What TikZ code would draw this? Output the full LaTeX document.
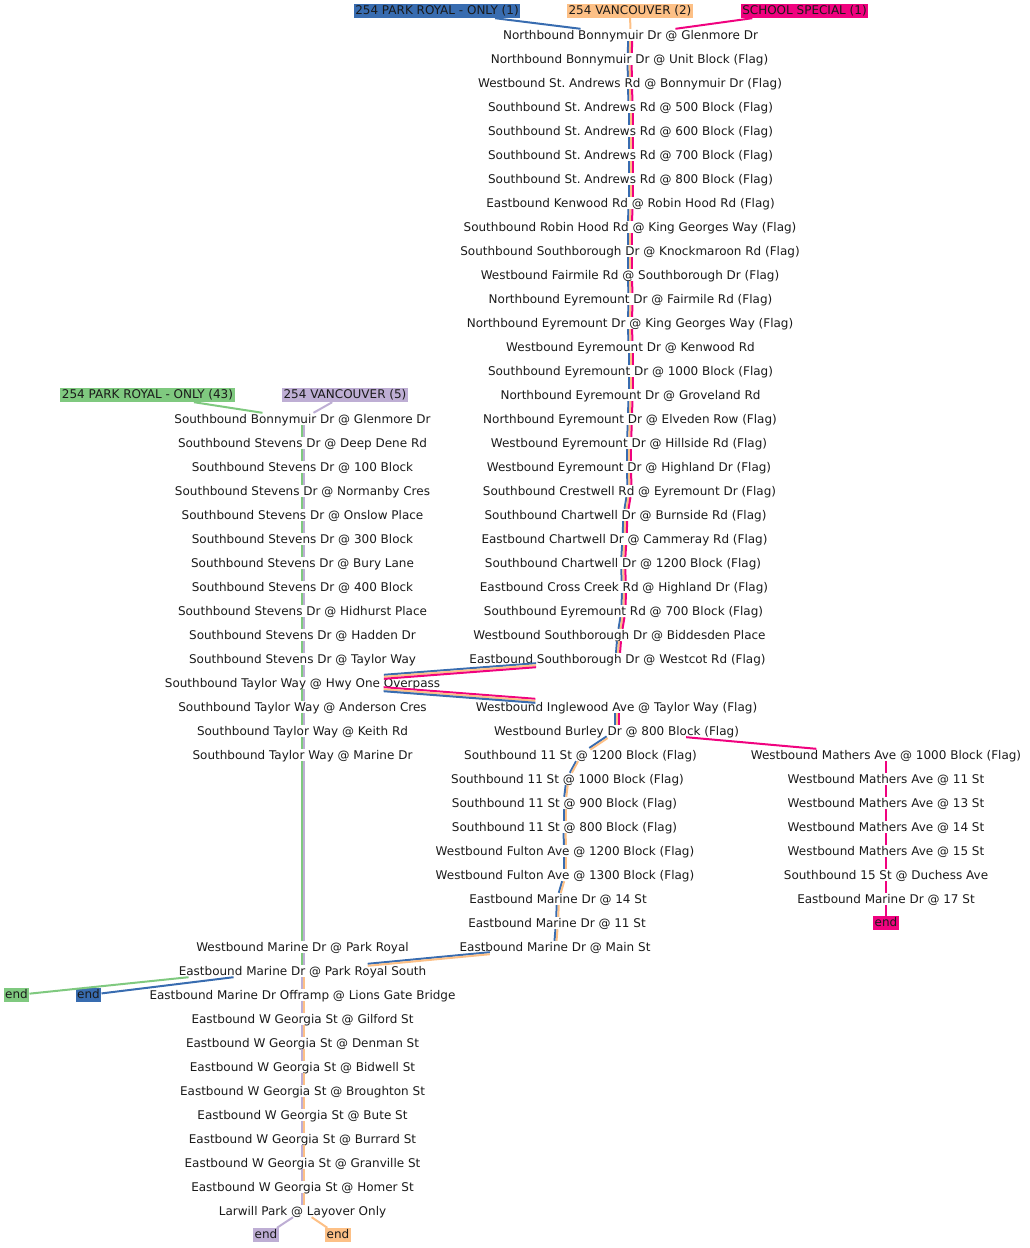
\documentclass[tikz,border=0pt]{standalone}
\usepackage{fontspec}
\setmainfont{DejaVu Sans}
\usepackage{tikz}
\usetikzlibrary{calc}
\definecolor{ink}{HTML}{1A1A1A}
\definecolor{grn}{HTML}{7FC97F}
\definecolor{pur}{HTML}{BEAED4}
\definecolor{org}{HTML}{FDC086}
\definecolor{blu}{HTML}{386CB0}
\definecolor{pnk}{HTML}{F0027F}
\frenchspacing

\begin{document}
\begin{tikzpicture}[x=1pt,y=-1pt,every node/.style={font=\fontsize{12}{14}\selectfont,text=ink}]
\tikzstyle{stop}=[inner sep=0pt,text height=10pt,text depth=2pt]
\tikzstyle{route}=[inner xsep=1.5pt,inner ysep=1pt,text height=9.5pt,text depth=2.5pt]
\tikzstyle{leg}=[line width=2pt]
\useasboundingbox (0,0) rectangle (1029,1248);
% routes
\node[route,fill=blu] (prone) at (437,11) {254 PARK ROYAL - ONLY (1)};
\node[route,fill=org] (vantwo) at (630,11) {254 VANCOUVER (2)};
\node[route,fill=pnk] (school) at (804.5,11) {SCHOOL SPECIAL (1)};
\node[route,fill=grn] (prmany) at (147.5,395) {254 PARK ROYAL - ONLY (43)};
\node[route,fill=pur] (vanfive) at (345,395) {254 VANCOUVER (5)};
% north shore trunk
\node[stop] (n1) at (630.5,35) {Northbound Bonnymuir Dr @ Glenmore Dr};
\node[stop] (n2) at (629.5,59) {Northbound Bonnymuir Dr @ Unit Block (Flag)};
\node[stop] (n3) at (630,83) {Westbound St. Andrews Rd @ Bonnymuir Dr (Flag)};
\node[stop] (n4) at (630.5,107) {Southbound St. Andrews Rd @ 500 Block (Flag)};
\node[stop] (n5) at (630.5,131) {Southbound St. Andrews Rd @ 600 Block (Flag)};
\node[stop] (n6) at (630.5,155) {Southbound St. Andrews Rd @ 700 Block (Flag)};
\node[stop] (n7) at (630.5,179) {Southbound St. Andrews Rd @ 800 Block (Flag)};
\node[stop] (n8) at (630.5,203) {Eastbound Kenwood Rd @ Robin Hood Rd (Flag)};
\node[stop] (n9) at (630,227) {Southbound Robin Hood Rd @ King Georges Way (Flag)};
\node[stop] (n10) at (630,251) {Southbound Southborough Dr @ Knockmaroon Rd (Flag)};
\node[stop] (n11) at (630,275) {Westbound Fairmile Rd @ Southborough Dr (Flag)};
\node[stop] (n12) at (630.5,299) {Northbound Eyremount Dr @ Fairmile Rd (Flag)};
\node[stop] (n13) at (630,323) {Northbound Eyremount Dr @ King Georges Way (Flag)};
\node[stop] (n14) at (630.5,347) {Westbound Eyremount Dr @ Kenwood Rd};
\node[stop] (n15) at (630.5,371) {Southbound Eyremount Dr @ 1000 Block (Flag)};
\node[stop] (n16) at (630.5,395) {Northbound Eyremount Dr @ Groveland Rd};
\node[stop] (n17) at (630,419) {Northbound Eyremount Dr @ Elveden Row (Flag)};
\node[stop] (n18) at (629,443) {Westbound Eyremount Dr @ Hillside Rd (Flag)};
\node[stop] (n19) at (629,467) {Westbound Eyremount Dr @ Highland Dr (Flag)};
\node[stop] (n20) at (629.5,491) {Southbound Crestwell Rd @ Eyremount Dr (Flag)};
\node[stop] (n21) at (625.5,515) {Southbound Chartwell Dr @ Burnside Rd (Flag)};
\node[stop] (n22) at (624.5,539) {Eastbound Chartwell Dr @ Cammeray Rd (Flag)};
\node[stop] (n23) at (623,563) {Southbound Chartwell Dr @ 1200 Block (Flag)};
\node[stop] (n24) at (624,587) {Eastbound Cross Creek Rd @ Highland Dr (Flag)};
\node[stop] (n25) at (623.5,611) {Southbound Eyremount Rd @ 700 Block (Flag)};
\node[stop] (n26) at (619.5,635) {Westbound Southborough Dr @ Biddesden Place};
\node[stop] (n27) at (617.5,659) {Eastbound Southborough Dr @ Westcot Rd (Flag)};
% left column
\node[stop] (s1) at (302.5,419) {Southbound Bonnymuir Dr @ Glenmore Dr};
\node[stop] (s2) at (302.5,443) {Southbound Stevens Dr @ Deep Dene Rd};
\node[stop] (s3) at (302.5,467) {Southbound Stevens Dr @ 100 Block};
\node[stop] (s4) at (302.5,491) {Southbound Stevens Dr @ Normanby Cres};
\node[stop] (s5) at (302.5,515) {Southbound Stevens Dr @ Onslow Place};
\node[stop] (s6) at (302.5,539) {Southbound Stevens Dr @ 300 Block};
\node[stop] (s7) at (302.5,563) {Southbound Stevens Dr @ Bury Lane};
\node[stop] (s8) at (302.5,587) {Southbound Stevens Dr @ 400 Block};
\node[stop] (s9) at (302.5,611) {Southbound Stevens Dr @ Hidhurst Place};
\node[stop] (s10) at (302.5,635) {Southbound Stevens Dr @ Hadden Dr};
\node[stop] (s11) at (302.5,659) {Southbound Stevens Dr @ Taylor Way};
\node[stop] (s12) at (302.5,683) {Southbound Taylor Way @ Hwy One Overpass};
\node[stop] (s13) at (302.5,707) {Southbound Taylor Way @ Anderson Cres};
\node[stop] (s14) at (302.5,731) {Southbound Taylor Way @ Keith Rd};
\node[stop] (s15) at (302.5,755) {Southbound Taylor Way @ Marine Dr};
\node[stop] (s16) at (302.5,947) {Westbound Marine Dr @ Park Royal};
\node[stop] (s17) at (302.5,971) {Eastbound Marine Dr @ Park Royal South};
\node[stop] (g1) at (302.5,995) {Eastbound Marine Dr Offramp @ Lions Gate Bridge};
\node[stop] (g2) at (302.5,1019) {Eastbound W Georgia St @ Gilford St};
\node[stop] (g3) at (302.5,1043) {Eastbound W Georgia St @ Denman St};
\node[stop] (g4) at (302.5,1067) {Eastbound W Georgia St @ Bidwell St};
\node[stop] (g5) at (302.5,1091) {Eastbound W Georgia St @ Broughton St};
\node[stop] (g6) at (302.5,1115) {Eastbound W Georgia St @ Bute St};
\node[stop] (g7) at (302.5,1139) {Eastbound W Georgia St @ Burrard St};
\node[stop] (g8) at (302.5,1163) {Eastbound W Georgia St @ Granville St};
\node[stop] (g9) at (302.5,1187) {Eastbound W Georgia St @ Homer St};
\node[stop] (g10) at (302.5,1211) {Larwill Park @ Layover Only};
% middle column
\node[stop] (i1) at (616.5,707) {Westbound Inglewood Ave @ Taylor Way (Flag)};
\node[stop] (i2) at (616.5,731) {Westbound Burley Dr @ 800 Block (Flag)};
\node[stop] (m1) at (580.5,755) {Southbound 11 St @ 1200 Block (Flag)};
\node[stop] (m2) at (567.5,779) {Southbound 11 St @ 1000 Block (Flag)};
\node[stop] (m3) at (564.5,803) {Southbound 11 St @ 900 Block (Flag)};
\node[stop] (m4) at (564.5,827) {Southbound 11 St @ 800 Block (Flag)};
\node[stop] (m5) at (565,851) {Westbound Fulton Ave @ 1200 Block (Flag)};
\node[stop] (m6) at (565,875) {Westbound Fulton Ave @ 1300 Block (Flag)};
\node[stop] (m7) at (558,899) {Eastbound Marine Dr @ 14 St};
\node[stop] (m8) at (557,923) {Eastbound Marine Dr @ 11 St};
\node[stop] (m9) at (555,947) {Eastbound Marine Dr @ Main St};
% school branch
\node[stop] (h1) at (886,755) {Westbound Mathers Ave @ 1000 Block (Flag)};
\node[stop] (h2) at (886,779) {Westbound Mathers Ave @ 11 St};
\node[stop] (h3) at (886,803) {Westbound Mathers Ave @ 13 St};
\node[stop] (h4) at (886,827) {Westbound Mathers Ave @ 14 St};
\node[stop] (h5) at (886,851) {Westbound Mathers Ave @ 15 St};
\node[stop] (h6) at (886,875) {Southbound 15 St @ Duchess Ave};
\node[stop] (h7) at (886,899) {Eastbound Marine Dr @ 17 St};
% ends
\node[route,fill=grn] (endg) at (16.5,995) {end};
\node[route,fill=blu] (endb) at (88.5,995) {end};
\node[route,fill=pur] (endp) at (266,1235) {end};
\node[route,fill=org] (endo) at (338,1235) {end};
\node[route,fill=pnk] (endk) at (886,923) {end};
% legs
\draw[leg,blu] (prone)--(n1);
\draw[leg,org] (vantwo)--(n1);
\draw[leg,pnk] (school)--(n1);
\draw[leg,grn] (prmany)--(s1);
\draw[leg,pur] (vanfive)--(s1);
\foreach \i [evaluate=\i as \j using int(\i+1)] in {1,...,26}{
  \draw[leg,blu,transform canvas={xshift=-2pt}] (n\i)--(n\j);
  \draw[leg,org] (n\i)--(n\j);
  \draw[leg,pnk,transform canvas={xshift=2pt}] (n\i)--(n\j);
}
\draw[leg,blu,transform canvas={yshift=2pt}] (n27)--(s12);
\draw[leg,org] (n27)--(s12);
\draw[leg,pnk,transform canvas={yshift=-2pt}] (n27)--(s12);
\draw[leg,pnk,transform canvas={yshift=2pt}] (s12)--(i1);
\draw[leg,org] (s12)--(i1);
\draw[leg,blu,transform canvas={yshift=-2pt}] (s12)--(i1);
\draw[leg,blu,transform canvas={xshift=-2pt}] (i1)--(i2);
\draw[leg,org] (i1)--(i2);
\draw[leg,pnk,transform canvas={xshift=2pt}] (i1)--(i2);
\draw[leg,blu,transform canvas={xshift=-0.55pt,yshift=0.83pt}] (i2)--(m1);
\draw[leg,org,transform canvas={xshift=0.55pt,yshift=-0.83pt}] (i2)--(m1);
\foreach \i [evaluate=\i as \j using int(\i+1)] in {1,...,8}{
  \draw[leg,blu,transform canvas={xshift=-1pt}] (m\i)--(m\j);
  \draw[leg,org,transform canvas={xshift=1pt}] (m\i)--(m\j);
}
\draw[leg,blu,transform canvas={yshift=1pt}] (m9)--(s17);
\draw[leg,org,transform canvas={yshift=-1pt}] (m9)--(s17);
\draw[leg,pnk] (i2)--(h1);
\foreach \i [evaluate=\i as \j using int(\i+1)] in {1,...,6}
  \draw[leg,pnk] (h\i)--(h\j);
\draw[leg,pnk] (h7)--(endk);
\foreach \i [evaluate=\i as \j using int(\i+1)] in {1,...,16}{
  \draw[leg,grn,transform canvas={xshift=-1pt}] (s\i)--(s\j);
  \draw[leg,pur,transform canvas={xshift=1pt}] (s\i)--(s\j);
}
\draw[leg,pur,transform canvas={xshift=-1pt}] (s17)--(g1);
\draw[leg,org,transform canvas={xshift=1pt}] (s17)--(g1);
\foreach \i [evaluate=\i as \j using int(\i+1)] in {1,...,9}{
  \draw[leg,pur,transform canvas={xshift=-1pt}] (g\i)--(g\j);
  \draw[leg,org,transform canvas={xshift=1pt}] (g\i)--(g\j);
}
\draw[leg,grn] ([xshift=-114pt]s17.south)--(endg);
\draw[leg,blu] ([xshift=-69pt]s17.south)--(endb);
\draw[leg,pur] (g10)--(endp);
\draw[leg,org] (g10)--(endo);
\end{tikzpicture}
\end{document}
